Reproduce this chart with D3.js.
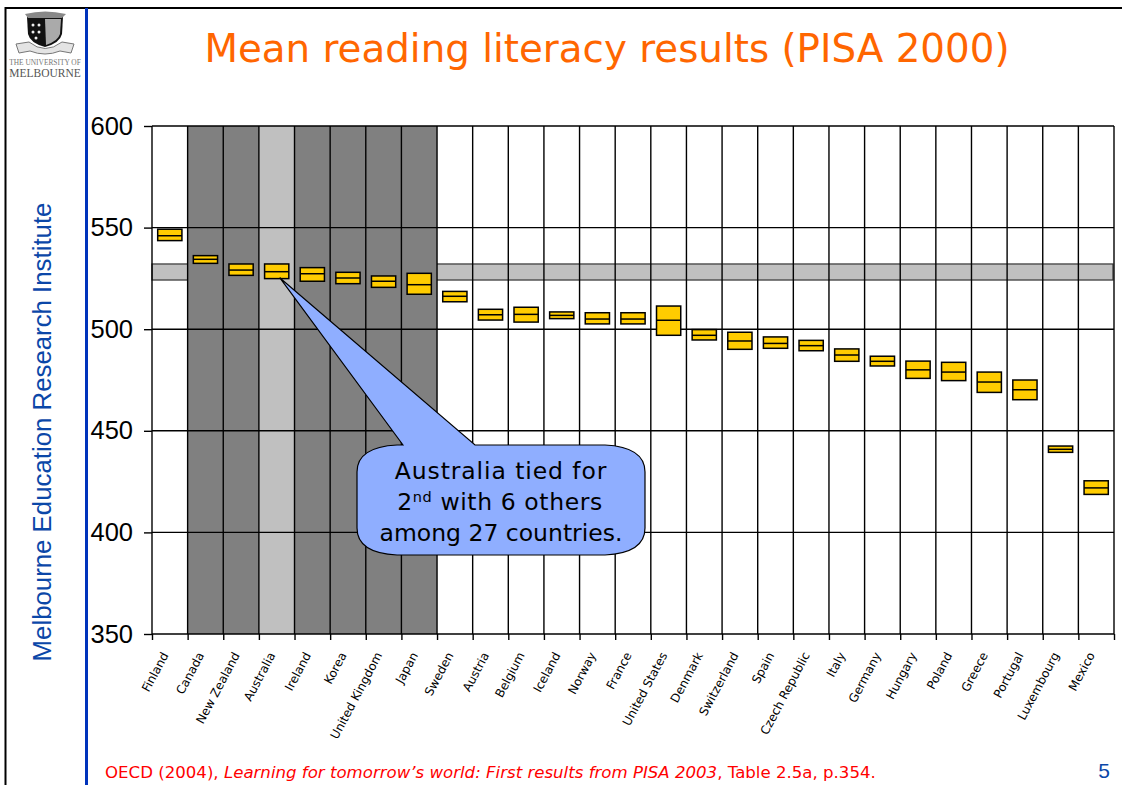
<!DOCTYPE html>
<meta charset="utf-8">
<style>
  html, body { margin: 0; padding: 0; background: #fff; }
  svg { display: block; }
  text { font-family: "Liberation Sans", sans-serif; }
  .comic { font-family: "DejaVu Sans", sans-serif; }
</style>
<script src="https://d3js.org/d3.v7.min.js"></script>
<svg width="1122" height="785"></svg>
<script>
// upper bound, mean, lower bound of each country
var countries = ["Finland", "Canada", "New Zealand", "Australia", "Ireland", "Korea", "United Kingdom", "Japan", "Sweden", "Austria", "Belgium", "Iceland", "Norway", "France", "United States", "Denmark", "Switzerland", "Spain", "Czech Republic", "Italy", "Germany", "Hungary", "Poland", "Greece", "Portugal", "Luxembourg", "Mexico"];
var upper = [549.2, 536.2, 532.1, 532.1, 530.3, 528, 526.2, 527.5, 518.6, 509.8, 510.8, 508.5, 508.1, 508.1, 511.4, 499.8, 498.5, 496.2, 494.5, 490.3, 486.7, 484.3, 483.7, 478.9, 475, 442.5, 425.4];
var means = [546, 534.4, 529.1, 528.3, 527.3, 525.2, 523.6, 521.9, 516.2, 507.1, 507.3, 506.8, 505, 505, 504.4, 497, 494.2, 493, 491.9, 487.3, 484.2, 480, 478.9, 474, 470.2, 440.9, 421.9];
var lower = [543.6, 532.4, 526.5, 524.9, 523.6, 522.4, 520.6, 517.2, 513.5, 504.5, 503.5, 505.2, 502.6, 502.6, 497, 494.7, 490.1, 490.6, 489.4, 484.2, 481.9, 475.8, 474.7, 468.9, 465.3, 439.4, 418.7];
var tiedDark = ["Canada", "New Zealand", "Ireland", "Korea", "United Kingdom", "Japan"];
var tiedLight = ["Australia"];
var yTicks = [350, 400, 450, 500, 550, 600];
var australiaBand = [524.2, 532.1];

var svg = d3.select("svg");
var left = 152, right = 1114, top_ = 126, bottom = 634;

var column = d3.scaleBand().domain(countries).range([left, right]);
var x = d3.scaleBand().domain(countries).range([left, right]).paddingInner(0.32).paddingOuter(0.16);
var edge = d3.scaleLinear().domain([0, countries.length]).range([left, right]);
var y = d3.scaleLinear().domain([350, 600]).range([bottom, top_]);

// slide frame
svg.append("path")
  .attr("d", "M5.5,785V8H1122")
  .attr("fill", "none").attr("stroke", "#000").attr("stroke-width", 2);
svg.append("line")
  .attr("x1", 86.5).attr("x2", 86.5).attr("y1", 8).attr("y2", 785)
  .attr("stroke", "#0033bb").attr("stroke-width", 3);

// crest, only roughly
var logo = svg.append("g");
logo.append("path")
  .attr("d", "M16,44 L29,42 Q45,55 62,42 L74,44 L71,53 L60,51 Q45,57 30,51 L19,53 Z")
  .attr("fill", "#e4e4e4").attr("stroke", "#777").attr("stroke-width", 1);
logo.append("path")
  .attr("d", "M27,17 L63,17 L62,34 Q60,43 45,47 Q30,43 28,34 Z")
  .attr("fill", "#111");
logo.append("path")
  .attr("d", "M45,19 L61,19 L60,34 Q58,41 46,45 Z")
  .attr("fill", "#aaa");
logo.append("path")
  .attr("d", "M25,14 Q45,9 66,14 L62,18 L28,18 Z")
  .attr("fill", "#888");
logo.selectAll("circle")
  .data([[33, 25], [39, 25], [33, 32], [39, 32], [36, 38]])
  .enter().append("circle")
  .attr("cx", function(d) { return d[0]; })
  .attr("cy", function(d) { return d[1]; })
  .attr("r", 1.5).attr("fill", "#eee");
logo.append("text")
  .attr("x", 45).attr("y", 65).attr("text-anchor", "middle")
  .style("font-family", "Liberation Serif").attr("font-size", 7.4).attr("fill", "#777")
  .text("THE UNIVERSITY OF");
logo.append("text")
  .attr("x", 45).attr("y", 77).attr("text-anchor", "middle")
  .style("font-family", "Liberation Serif").attr("font-size", 11.5).attr("fill", "#555")
  .text("MELBOURNE");

svg.append("text")
  .attr("class", "comic")
  .attr("x", 607).attr("y", 62).attr("text-anchor", "middle")
  .attr("font-size", 38.8).attr("fill", "#ff6600")
  .text("Mean reading literacy results (PISA 2000)");

svg.append("text")
  .attr("transform", "translate(51,432) rotate(-90)")
  .attr("text-anchor", "middle")
  .attr("font-size", 25.8).attr("fill", "#0b47a8")
  .text("Melbourne Education Research Institute");

// grey band for Australia's interval, the shaded columns sit on top of it
svg.append("rect")
  .attr("x", left).attr("width", right - left - 1)
  .attr("y", y(australiaBand[1]))
  .attr("height", y(australiaBand[0]) - y(australiaBand[1]))
  .attr("fill", "#c0c0c0").attr("stroke", "#333").attr("stroke-width", 1.2);

svg.selectAll(".tied")
  .data(tiedDark.concat(tiedLight))
  .enter().append("rect")
  .attr("class", "tied")
  .attr("x", function(d) { return column(d); })
  .attr("y", top_)
  .attr("width", column.bandwidth())
  .attr("height", bottom - top_)
  .attr("fill", function(d) { return tiedLight.indexOf(d) >= 0 ? "#c0c0c0" : "#808080"; });

// axes also give the grid
var yAxis = svg.append("g")
  .attr("transform", "translate(" + left + ",0)")
  .call(d3.axisLeft(y).tickValues(yTicks).tickSizeOuter(0).tickSizeInner(8).tickPadding(11));
yAxis.select(".domain").remove();
yAxis.selectAll("line").attr("stroke", "#000").attr("stroke-width", 1.4);
yAxis.selectAll("text").attr("font-size", 25.5).attr("fill", "#000")
  .style("font-family", "Liberation Sans");

var grid = svg.append("g");
grid.selectAll(".h")
  .data(yTicks)
  .enter().append("line")
  .attr("class", "h")
  .attr("x1", left).attr("x2", right)
  .attr("y1", function(d) { return y(d); })
  .attr("y2", function(d) { return y(d); })
  .attr("stroke", "#000").attr("stroke-width", 1.4);

var xAxis = svg.append("g")
  .attr("transform", "translate(0," + bottom + ")")
  .call(d3.axisBottom(edge).tickValues(d3.range(countries.length + 1)).tickFormat("").tickSizeOuter(0).tickSizeInner(6));
xAxis.select(".domain").remove();
xAxis.selectAll("line").attr("stroke", "#000").attr("stroke-width", 1.4);

grid.selectAll(".v")
  .data(d3.range(countries.length + 1))
  .enter().append("line")
  .attr("class", "v")
  .attr("x1", function(d) { return edge(d); })
  .attr("x2", function(d) { return edge(d); })
  .attr("y1", top_).attr("y2", bottom)
  .attr("stroke", "#000").attr("stroke-width", 1.4);

var labels = svg.append("g")
  .attr("transform", "translate(0," + bottom + ")")
  .call(d3.axisBottom(column).tickSize(0).tickPadding(0));
labels.select(".domain").remove();
labels.selectAll("text")
  .attr("class", "comic")
  .attr("font-size", 12).attr("fill", "#000")
  .attr("text-anchor", "end")
  .attr("dy", null).attr("y", null)
  .attr("transform", "translate(-1,21) rotate(-62)");

// the boxes
var boxes = svg.selectAll(".box")
  .data(countries)
  .enter().append("g")
  .attr("class", "box");
boxes.append("rect")
  .attr("x", function(d) { return x(d); })
  .attr("width", x.bandwidth())
  .attr("y", function(d, i) { return y(upper[i]); })
  .attr("height", function(d, i) { return y(lower[i]) - y(upper[i]); })
  .attr("fill", "#ffcc00").attr("stroke", "#000").attr("stroke-width", 1.5);
boxes.append("line")
  .attr("x1", function(d) { return x(d); })
  .attr("x2", function(d) { return x(d) + x.bandwidth(); })
  .attr("y1", function(d, i) { return y(means[i]); })
  .attr("y2", function(d, i) { return y(means[i]); })
  .attr("stroke", "#000").attr("stroke-width", 1.5);

// callout pointing at Australia
var tipX = column("Australia") + column.bandwidth() / 2 + 3;
var tipY = y(means[countries.indexOf("Australia")]) + 6;
svg.append("path")
  .attr("d", "M403,445 L" + tipX + "," + tipY + " L475,445 L605,445 Q645,447 645,472 L645,528 Q645,553 605,555 L397,555 Q357,553 357,528 L357,472 Q357,447 397,445 Z")
  .attr("fill", "#8faeff").attr("stroke", "#000").attr("stroke-width", 1.2);
var callout = svg.append("text")
  .attr("class", "comic")
  .attr("text-anchor", "middle").attr("font-size", 23.5).attr("fill", "#000");
callout.append("tspan").attr("x", 501).attr("y", 479).attr("letter-spacing", 0.9).text("Australia tied for");
callout.append("tspan").attr("x", 500).attr("y", 510).attr("letter-spacing", 0.6).text("2");
callout.append("tspan").attr("dy", -8).attr("font-size", 14.5).attr("letter-spacing", 0.6).text("nd");
callout.append("tspan").attr("dy", 8).attr("letter-spacing", 0.6).text(" with 6 others");
callout.append("tspan").attr("x", 501).attr("y", 541).text("among 27 countries.");

// source line
var source = svg.append("text")
  .attr("class", "comic")
  .attr("x", 105).attr("y", 778)
  .attr("font-size", 16.6).attr("fill", "#ff0000");
source.append("tspan").text("OECD (2004), ");
source.append("tspan").attr("font-style", "italic").text("Learning for tomorrow\u2019s world: First results from PISA 2003");
source.append("tspan").text(", Table 2.5a, p.354.");

svg.append("text")
  .attr("x", 1104).attr("y", 778).attr("text-anchor", "middle")
  .attr("font-size", 21).attr("fill", "#0b47a8")
  .text("5");
</script>
